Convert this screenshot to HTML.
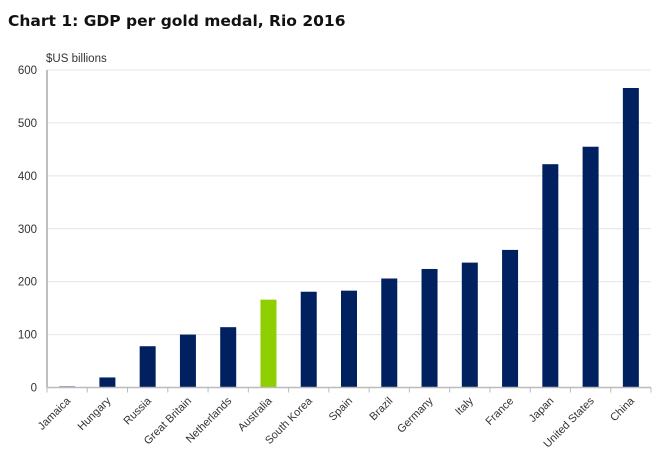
<!DOCTYPE html>
<html><head><meta charset="utf-8"><style>
body{margin:0;background:#fff;}
svg{display:block;font-family:"Liberation Sans","DejaVu Sans",sans-serif;}
</style></head><body>
<svg id="chart" width="660" height="462">
<text x="8" y="26" font-family="DejaVu Sans, sans-serif" font-weight="bold" font-size="15.5" fill="#111">Chart 1: GDP per gold medal, Rio 2016</text>
<text x="46" y="62" font-size="11.5" fill="#333">$US billions</text>
<g id="grid"></g><g id="bars"></g><g id="axes"></g>
</svg>
<script>
const categories=["Jamaica","Hungary","Russia","Great Britain","Netherlands","Australia","South Korea","Spain","Brazil","Germany","Italy","France","Japan","United States","China"];
const values=[2,19,78,100,114,166,181,183,206,224,236,260,422,455,566];
const highlight=["Australia"];
const yTicks=[0,100,200,300,400,500,600];
const NS="http://www.w3.org/2000/svg";
const x0=47,x1=651,y0=387.5,y1=70,yMax=600;
const step=(x1-x0)/categories.length;
const ys=v=>y0-(v/yMax)*(y0-y1);
const xc=i=>x0+step*(i+0.5);
function mk(t,a,p){const e=document.createElementNS(NS,t);for(const k in a)e.setAttribute(k,a[k]);p.appendChild(e);return e;}
const grid=document.getElementById('grid'),bars=document.getElementById('bars'),axes=document.getElementById('axes');
yTicks.forEach(t=>{
 if(t>0){const l=mk('line',{x1:x0,x2:x1,y1:ys(t),y2:ys(t),stroke:'#e4e4e4','stroke-width':1},grid);
 
 }
 const tx=mk('text',{x:37,y:ys(t)+4,'text-anchor':'end','font-size':11.5,fill:'#333'},axes);tx.textContent=t;
 
 
});
categories.forEach((c,i)=>{
 const w=16,h=y0-ys(values[i]);
 const r=mk('rect',{x:xc(i)-w/2,y:ys(values[i]),width:w,height:h,fill:highlight.includes(c)?'#8fcf00':'#002060'},bars);
 
 
 const lx=xc(i)+4,ly=y0+14;
 const tx=mk('text',{x:lx,y:ly,'text-anchor':'end','font-size':11,fill:'#333',transform:`rotate(-45 ${lx} ${ly})`},axes);tx.textContent=c;
 
 
});
for(let i=0;i<=categories.length;i++){const t=mk('line',{x1:x0+step*i,x2:x0+step*i,y1:y0,y2:y0+5,stroke:'#bbb'},axes);
 
 }
const ya=mk('line',{x1:x0,x2:x0,y1:y1,y2:y0,stroke:'#aaa','stroke-width':1.5},axes);


const xa=mk('line',{x1:x0,x2:x1,y1:y0,y2:y0,stroke:'#bbb','stroke-width':1.5},axes);


</script>
</body></html>
